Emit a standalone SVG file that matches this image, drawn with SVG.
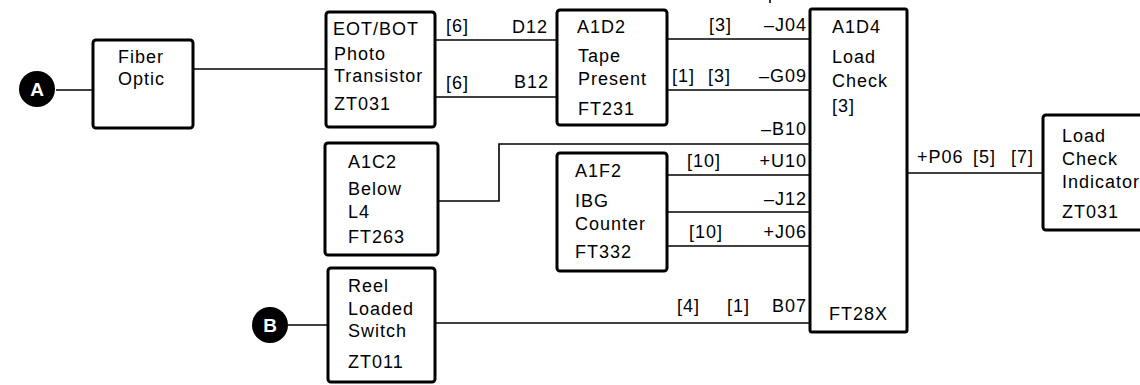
<svg xmlns="http://www.w3.org/2000/svg" width="1140" height="385" viewBox="0 0 1140 385">
<style>
.box{fill:#fff;stroke:#000;stroke-width:3}
.wire{fill:none;stroke:#000;stroke-width:1.6}
text{font-family:"Liberation Sans",Arial,sans-serif;font-size:18px;letter-spacing:1px;fill:#000}
.end{text-anchor:end}
.tag{fill:#000}
.tagt{fill:#fff;font-weight:bold;font-size:19px;text-anchor:middle;letter-spacing:0}
</style>
<rect width="1140" height="385" fill="#fff"/>
<g id="connectors">
<path class="wire" d="M56,90H93"/>
<path class="wire" d="M193,69H326"/>
<path class="wire" d="M435,40H557"/>
<path class="wire" d="M435,97H557"/>
<path class="wire" d="M667,39H810"/>
<path class="wire" d="M667,90H810"/>
<path class="wire" d="M438,201H499V144H810"/>
<path class="wire" d="M667,175H810"/>
<path class="wire" d="M667,212H810"/>
<path class="wire" d="M667,246H810"/>
<path class="wire" d="M435,323H810"/>
<path class="wire" d="M288,325H328"/>
<path class="wire" d="M907,173H1043"/>
<path class="wire" d="M770,0V3"/>
<text x="446" y="32">[6]</text>
<text x="446" y="89">[6]</text>
<text x="512" y="33">D12</text>
<text x="514" y="88">B12</text>
<text x="709" y="31">[3]</text>
<text class="end" x="807" y="31">–J04</text>
<text x="672" y="82">[1]</text>
<text x="708" y="82">[3]</text>
<text class="end" x="807" y="82">–G09</text>
<text class="end" x="807" y="135">–B10</text>
<text x="687" y="167">[10]</text>
<text class="end" x="807" y="167">+U10</text>
<text class="end" x="807" y="205">–J12</text>
<text x="689" y="238">[10]</text>
<text class="end" x="807" y="238">+J06</text>
<text x="677" y="312">[4]</text>
<text x="727" y="312">[1]</text>
<text class="end" x="807" y="312">B07</text>
<text x="917" y="163">+P06</text>
<text x="973" y="163">[5]</text>
<text x="1011" y="163">[7]</text>
</g>
<g id="tagA">
<circle class="tag" cx="37" cy="89" r="18"/>
<text class="tagt" x="37" y="96">A</text>
</g>
<g id="tagB">
<circle class="tag" cx="270" cy="325" r="18"/>
<text class="tagt" x="270" y="332">B</text>
</g>
<g id="fiber">
<rect class="box" x="93" y="40" width="100" height="88" rx="3"/>
<text x="118" y="63">Fiber</text>
<text x="118" y="85">Optic</text>
</g>
<g id="eot">
<rect class="box" x="326" y="12" width="109" height="115" rx="3"/>
<text x="333" y="35">EOT/BOT</text>
<text x="334" y="60">Photo</text>
<text x="334" y="82">Transistor</text>
<text x="334" y="110">ZT031</text>
</g>
<g id="a1d2">
<rect class="box" x="557" y="10" width="110" height="115" rx="3"/>
<text x="577" y="33">A1D2</text>
<text x="578" y="62">Tape</text>
<text x="578" y="85">Present</text>
<text x="578" y="115">FT231</text>
</g>
<g id="a1d4">
<rect class="box" x="810" y="9" width="97" height="323" rx="2"/>
<text x="832" y="33">A1D4</text>
<text x="832" y="63">Load</text>
<text x="832" y="87">Check</text>
<text x="832" y="112">[3]</text>
<text x="829" y="320">FT28X</text>
</g>
<g id="a1c2">
<rect class="box" x="325" y="143" width="113" height="112" rx="3"/>
<text x="348" y="168">A1C2</text>
<text x="348" y="195">Below</text>
<text x="348" y="218">L4</text>
<text x="348" y="243">FT263</text>
</g>
<g id="a1f2">
<rect class="box" x="557" y="153" width="110" height="118" rx="3"/>
<text x="575" y="177">A1F2</text>
<text x="575" y="207">IBG</text>
<text x="575" y="230">Counter</text>
<text x="575" y="258">FT332</text>
</g>
<g id="reel">
<rect class="box" x="328" y="268" width="107" height="114" rx="3"/>
<text x="348" y="292">Reel</text>
<text x="348" y="315">Loaded</text>
<text x="348" y="337">Switch</text>
<text x="348" y="368">ZT011</text>
</g>
<g id="indicator">
<rect class="box" x="1043" y="115" width="110" height="115" rx="3"/>
<text x="1062" y="142">Load</text>
<text x="1062" y="165">Check</text>
<text x="1062" y="188">Indicator</text>
<text x="1062" y="218">ZT031</text>
</g>
</svg>
